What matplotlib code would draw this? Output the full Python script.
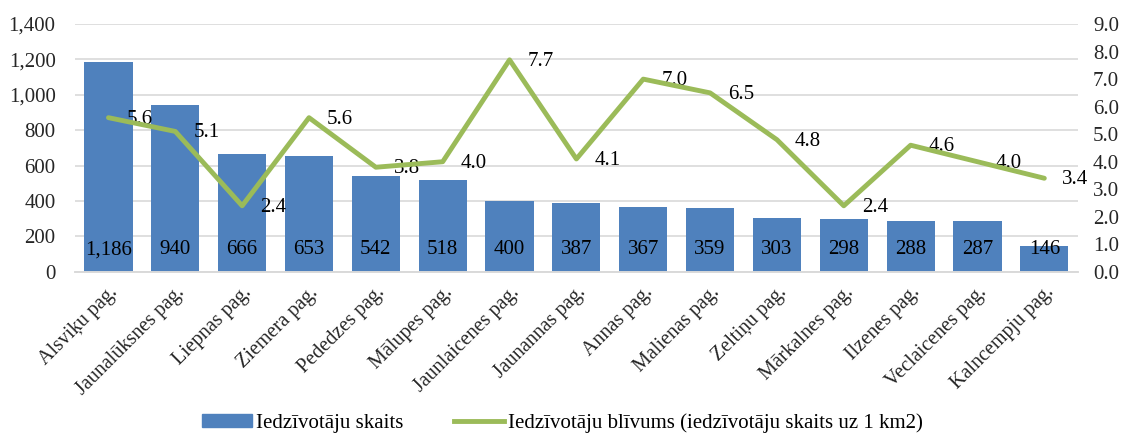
import matplotlib.pyplot as plt
from matplotlib.patches import Patch
from matplotlib.lines import Line2D
from matplotlib.ticker import FuncFormatter, MultipleLocator
import numpy as np

plt.rcParams['font.family'] = ['Liberation Serif', 'DejaVu Serif']

parishes = ["Alsviķu pag.", "Jaunalūksnes pag.", "Liepnas pag.", "Ziemera pag.",
            "Pededzes pag.", "Mālupes pag.", "Jaunlaicenes pag.", "Jaunannas pag.",
            "Annas pag.", "Malienas pag.", "Zeltiņu pag.", "Mārkalnes pag.",
            "Ilzenes pag.", "Veclaicenes pag.", "Kalncempju pag."]
population = [1186, 940, 666, 653, 542, 518, 400, 387, 367, 359, 303, 298, 288, 287, 146]
density = [5.6, 5.1, 2.4, 5.6, 3.8, 4.0, 7.7, 4.1, 7.0, 6.5, 4.8, 2.4, 4.6, 4.0, 3.4]

bar_color = "#4F81BD"
line_color = "#9BBB59"
grid_color = "#D9D9D9"
text_color = "#262626"

fig = plt.figure(figsize=(11.25, 4.45), dpi=100)
ax = fig.add_axes([0.0667, 0.389, 0.8913, 0.557])
ax2 = ax.twinx()

x = np.arange(len(parishes))
ax.bar(x, population, width=0.72, color=bar_color, zorder=2)
ax.set_ylim(0, 1400)
ax.set_xlim(-0.5, len(parishes) - 0.5)
ax.yaxis.set_major_locator(MultipleLocator(200))
ax.yaxis.set_major_formatter(FuncFormatter(lambda v, p: f"{int(v):,}"))
ax.grid(axis="y", color=grid_color, lw=1.2, zorder=0)
ax.set_axisbelow(True)

# bar values sit just above the base
for xi, v in zip(x, population):
    ax.annotate(f"{v:,}", (xi, 0), xytext=(0, 16), textcoords="offset points",
                ha="center", va="center", fontsize=15, color="black", zorder=5)

ax2.plot(x, density, color=line_color, lw=3.5, zorder=4, solid_capstyle="round")
ax2.set_ylim(0, 9)
ax2.yaxis.set_major_locator(MultipleLocator(1))
ax2.yaxis.set_major_formatter(FuncFormatter(lambda v, p: f"{v:.1f}"))
for xi, v in zip(x, density):
    ax2.annotate(f"{v:.1f}", (xi, v), xytext=(13, -1), textcoords="offset points",
                 ha="left", va="center", fontsize=15, color="black")

for a in (ax, ax2):
    for side in ("top", "left", "right"):
        a.spines[side].set_visible(False)
    a.spines["bottom"].set_color(grid_color)
    a.spines["bottom"].set_linewidth(1.2)
    a.tick_params(length=0, labelsize=15, colors=text_color)
ax.tick_params(axis="y", pad=14)
ax2.tick_params(axis="y", pad=11)

ax.set_xticks(x)
ax.set_xticklabels(parishes, rotation=45, ha="right", rotation_mode="anchor",
                   fontsize=14.5, color=text_color)
ax.tick_params(axis="x", pad=8)

handles = [Patch(color=bar_color, label="Iedzīvotāju skaits"),
           Line2D([0], [0], color=line_color, lw=3.5,
                  label="Iedzīvotāju blīvums (iedzīvotāju skaits uz 1 km2)")]
fig.legend(handles=handles, loc="lower center", bbox_to_anchor=(0.5, -0.015), ncol=2,
           frameon=False, fontsize=15, handlelength=2.4, handleheight=0.6,
           columnspacing=2.4, handletextpad=0.2)

fig.savefig("out.png", dpi=100)
